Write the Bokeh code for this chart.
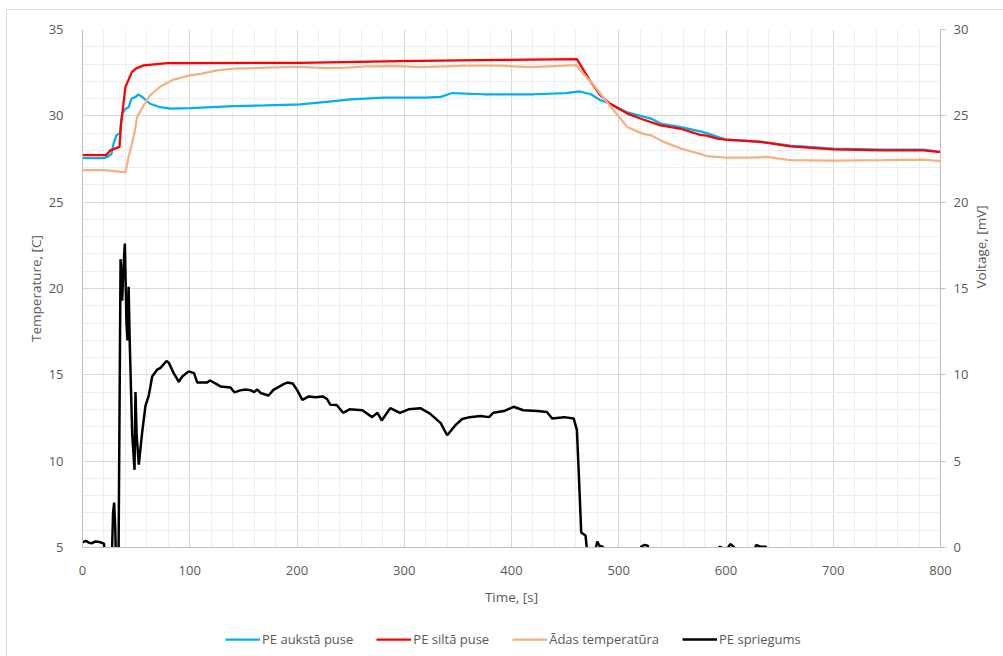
import math
from bokeh.plotting import figure
from bokeh.layouts import column
from bokeh.models import (Range1d, LinearAxis, SingleIntervalTicker, Legend, LegendItem)
from bokeh.embed import file_html
from bokeh.resources import INLINE

# ---- data ----
t_cold = [0, 20, 24, 27, 29, 31.6, 34.7, 37, 40, 43, 45.7, 49.6, 52, 55.6, 63, 72.6, 82, 100, 141, 170,
          197, 203, 225, 250, 281, 321, 334, 345, 374, 421, 451, 463, 474, 483, 492, 508, 530, 539, 558,
          576, 582, 592, 600, 632, 642, 660, 700, 747, 784, 800]
cold = [27.55, 27.55, 27.65, 27.8, 28.4, 28.87, 29.0, 30.13, 30.4, 30.5, 31.0, 31.1, 31.24, 31.1, 30.7,
        30.5, 30.42, 30.45, 30.56, 30.6, 30.65, 30.66, 30.8, 30.95, 31.05, 31.05, 31.1, 31.32, 31.25,
        31.25, 31.32, 31.42, 31.25, 30.9, 30.7, 30.2, 29.84, 29.55, 29.35, 29.1, 29.0, 28.78, 28.62,
        28.5, 28.42, 28.27, 28.1, 28.05, 28.05, 27.92]

t_hot = [0, 22, 26, 34.5, 36, 40, 46, 50, 57, 79, 100, 203, 296, 389, 461, 474, 483, 492, 508, 522, 539,
         558, 576, 582, 592, 600, 632, 642, 660, 700, 747, 784, 800]
hot = [27.72, 27.72, 28.0, 28.2, 29.55, 31.67, 32.53, 32.75, 32.92, 33.05, 33.05, 33.07, 33.17, 33.24,
       33.28, 31.95, 31.18, 30.7, 30.13, 29.8, 29.45, 29.25, 28.9, 28.85, 28.68, 28.62, 28.49, 28.4,
       28.23, 28.06, 28.0, 28.0, 27.9]

t_skin = [0, 20, 30, 40, 43, 48, 51, 56, 63, 72.7, 85, 100, 110, 125.6, 141, 172, 201, 228, 247, 265,
          296, 315, 358, 389, 418, 460, 467, 477, 489, 499, 508, 522, 530, 542, 554, 558, 576, 582, 600,
          622, 638, 660, 700, 747, 784, 800]
skin = [26.85, 26.85, 26.8, 26.72, 27.62, 28.87, 29.93, 30.5, 31.18, 31.7, 32.1, 32.34, 32.43, 32.63,
        32.73, 32.79, 32.83, 32.77, 32.79, 32.86, 32.88, 32.82, 32.91, 32.91, 32.82, 32.94, 32.44, 31.76,
        30.8, 30.03, 29.35, 28.97, 28.87, 28.49, 28.2, 28.1, 27.8, 27.66, 27.58, 27.58, 27.62, 27.43,
        27.4, 27.43, 27.47, 27.38]

t_volt = [0, 3, 6, 9, 12, 16, 20, 22, 27, 28.5, 29.5, 30.5, 31.5, 33.5, 35.5, 37, 38, 39.5, 41, 42, 43,
          44, 46.3, 48.5, 49.4, 50.5, 52.5, 55.6, 58.7, 61.8, 65, 69.6, 72.7, 78.3, 80.5, 85, 89.8, 93,
          99, 104, 107, 116, 119, 128.7, 138, 141.7, 147, 152, 157, 160, 163, 166, 173.5, 178, 188, 191,
          196, 200, 205, 211, 217, 224, 228, 231, 237, 243, 249, 261, 270, 275, 279, 287, 296, 304, 315,
          324, 334, 340, 348, 354, 361, 371, 379, 383, 393, 402, 411, 424, 433, 438, 449, 458, 461, 463,
          465, 469, 471, 477, 480, 482, 485, 487, 519, 521, 524, 527, 529, 591, 594, 599, 601, 604, 607,
          611, 626, 628, 632, 637, 640, 800]
volt = [0.3, 0.38, 0.28, 0.25, 0.35, 0.32, 0.22, -1.5, -1.5, 2.0, 2.6, 1.2, -1.5, -1.5, 16.7, 14.3, 16.0,
        17.6, 13.0, 12.0, 15.1, 12.0, 6.6, 4.5, 9.0, 6.5, 4.8, 6.65, 8.2, 8.8, 9.9, 10.3, 10.4, 10.8,
        10.7, 10.1, 9.6, 9.9, 10.2, 10.1, 9.55, 9.55, 9.67, 9.33, 9.27, 8.98, 9.1, 9.15, 9.1, 9.0, 9.15,
        8.95, 8.8, 9.13, 9.48, 9.55, 9.5, 9.13, 8.55, 8.75, 8.7, 8.75, 8.6, 8.27, 8.25, 7.8, 8.0, 7.95,
        7.55, 7.8, 7.36, 8.07, 7.8, 8.0, 8.07, 7.75, 7.2, 6.5, 7.1, 7.44, 7.55, 7.62, 7.55, 7.8, 7.9,
        8.15, 7.95, 7.9, 7.85, 7.47, 7.55, 7.47, 6.8, 3.9, 0.87, 0.7, -0.5, -0.5, 0.35, 0.1, 0.05, -0.4,
        -0.4, 0.05, 0.15, 0.1, -0.4, -0.4, 0.05, -0.1, -0.1, 0.2, 0.05, -0.4, -0.4, 0.15, 0.05, 0.05,
        -0.4, -0.4]

series_names = ["PE aukstā puse", "PE siltā puse", "Ādas temperatūra", "PE spriegums"]
series_colors = ["#00b0f0", "#ff0000", "#f4b183", "#000000"]
series_widths = [2.25, 2.25, 2.25, 2.5]
series_t = [t_cold, t_hot, t_skin, t_volt]
series_v = [cold, hot, skin, volt]

FONT = "Open Sans"
TXT = "#595959"

main = figure(width=996, height=598, output_backend="svg", toolbar_location=None,
              x_range=Range1d(0, 800), y_range=Range1d(5, 35),
              min_border_left=75, min_border_right=63, min_border_top=19, min_border_bottom=60)
main.extra_y_ranges = {"volt": Range1d(0, 30)}
main.outline_line_color = None
main.background_fill_color = "white"
main.border_fill_color = "white"

for i in range(4):
    kw = {"y_range_name": "volt"} if i == 3 else {}
    main.line(series_t[i], series_v[i], line_color=series_colors[i], line_width=series_widths[i], **kw)

xt = SingleIntervalTicker(interval=100, num_minor_ticks=5)
yt = SingleIntervalTicker(interval=5, num_minor_ticks=5)
main.xaxis.ticker = xt
main.yaxis[0].ticker = yt
main.xgrid.ticker = xt
main.ygrid.ticker = yt
for g in (main.xgrid[0], main.ygrid[0]):
    g.grid_line_color = "#d9d9d9"
    g.grid_line_width = 1
    g.minor_grid_line_color = "#eeeeee"
    g.minor_grid_line_width = 1

vax = LinearAxis(y_range_name="volt", ticker=SingleIntervalTicker(interval=5, num_minor_ticks=5),
                 axis_label="Voltage, [mV]")
main.add_layout(vax, "right")

main.xaxis[0].axis_label = "Time, [s]"
main.yaxis[0].axis_label = "Temperature, [C]"

for ax in [main.xaxis[0], main.yaxis[0], vax]:
    ax.axis_line_color = "#bfbfbf"
    ax.major_tick_line_color = None
    ax.minor_tick_line_color = None
    ax.major_label_text_font = FONT
    ax.major_label_text_font_size = "13px"
    ax.major_label_text_color = TXT
    ax.axis_label_text_font = FONT
    ax.axis_label_text_font_size = "13.5px"
    ax.axis_label_text_color = TXT
    ax.axis_label_text_font_style = "normal"

vax.major_tick_line_color = "#bfbfbf"
vax.major_tick_out = 5
vax.major_tick_in = 0
vax.major_label_standoff = 8
vax.axis_label_standoff = 10
vax.axis_label_orientation = math.pi / 2
vax.axis_label_text_align = "center"
main.yaxis[0].major_label_standoff = 13
main.yaxis[0].axis_label_standoff = 1
main.xaxis[0].major_label_standoff = 12
main.xaxis[0].axis_label_standoff = 10

# ---- legend strip below the chart (series drawn there fall outside its range) ----
leg = figure(width=996, height=48, output_backend="svg", toolbar_location=None,
             x_axis_type=None, y_axis_type=None,
             x_range=Range1d(0, 800), y_range=Range1d(100, 101), min_border=0)
leg.grid.visible = False
leg.outline_line_color = None
leg.background_fill_color = "white"
leg.border_fill_color = "white"
leg_renderers = [leg.line(series_t[i], series_v[i], line_color=series_colors[i], line_width=series_widths[i])
                 for i in range(4)]
legend = Legend(items=[LegendItem(label=n, renderers=[r]) for n, r in zip(series_names, leg_renderers)],
                orientation="horizontal", location=(143, 8))
legend.label_text_font = FONT
legend.label_text_font_size = "13px"
legend.label_text_color = TXT
legend.glyph_width = 35
legend.glyph_height = 14
legend.label_standoff = 2
legend.spacing = 23
legend.padding = 2
legend.margin = 0
legend.border_line_color = None
legend.background_fill_alpha = 0
leg.add_layout(legend, "center")

p = column(main, leg, spacing=0)
p.styles = {"outline": "1px solid #d9d9d9", "margin-left": "7px", "margin-top": "10px"}

open("out.html", "w").write(file_html(p, INLINE))
